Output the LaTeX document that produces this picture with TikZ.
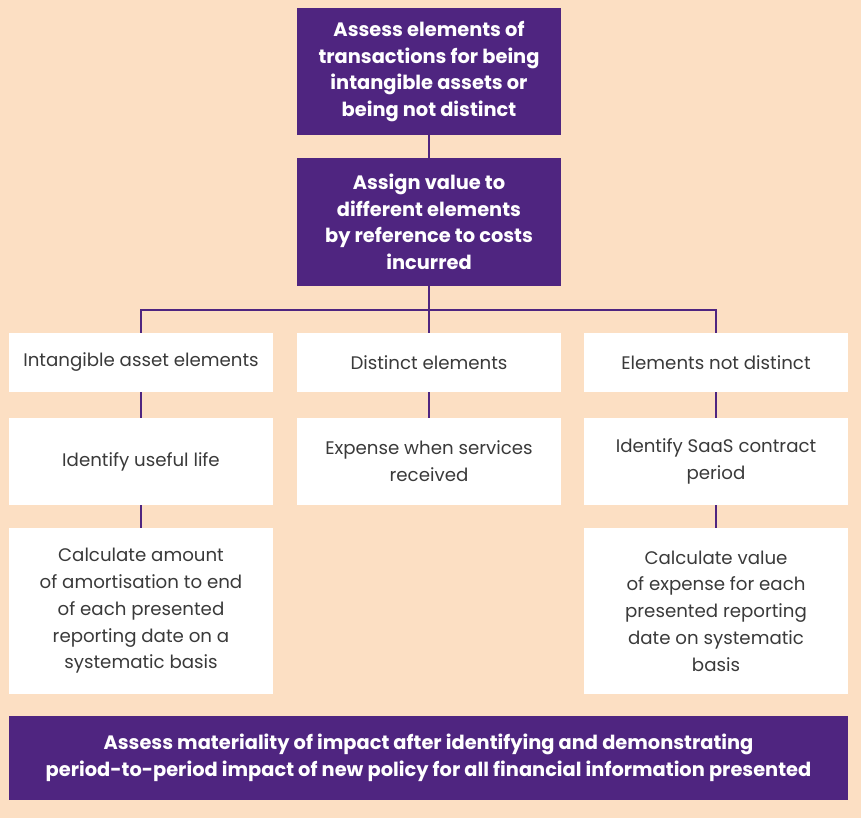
\documentclass[tikz,border=0pt]{standalone}
\usepackage{fontspec}
\setmainfont{Poppins}
\usetikzlibrary{positioning}

\definecolor{brandpurple}{HTML}{4F2580}
\definecolor{peach}{HTML}{FCDFC3}
\definecolor{textgray}{HTML}{3A3A3A}

\tikzset{
	purplebox/.style={fill=brandpurple, text=white, align=center, inner sep=0pt,
		font=\bfseries\fontsize{19.4}{26.5}\selectfont, minimum width=264},
	whitebox/.style={fill=white, text=textgray, align=center, inner sep=0pt,
		font=\fontsize{18.2}{26.8}\selectfont, minimum width=264},
	link/.style={draw=brandpurple, line width=2pt}
}

\begin{document}
\begin{tikzpicture}[x=1pt, y=-1pt]
		\fill[peach] (0,0) rectangle (861,818);
		\useasboundingbox (0,0) rectangle (861,818);
		% top of the flow
		\node[purplebox, minimum height=127] (assess) at (429,71.5) {Assess elements of\\transactions for being\\intangible assets or\\being not distinct};
		\node[purplebox, minimum height=128] (assign) at (429,222) {Assign value to\\different elements\\by reference to costs\\incurred};
		% three branches
		\node[whitebox, minimum height=59] (intangible) at (141,362.5) {Intangible asset elements};
		\node[whitebox, minimum height=59] (distinct) at (429,362.5) {Distinct elements};
		\node[whitebox, minimum height=59] (notdistinct) at (716,362.5) {Elements not distinct};
		\node[whitebox, minimum height=87] (useful) at (141,461.5) {Identify useful life};
		\node[whitebox, minimum height=87] (expense) at (429,461.5) {Expense when services\\received};
		\node[whitebox, minimum height=87] (saas) at (716,461.5) {Identify SaaS contract\\period};
		\node[whitebox, minimum height=166] (amort) at (141,611) {Calculate amount\\of amortisation to end\\of each presented\\reporting date on a\\systematic basis};
		\node[whitebox, minimum height=166] (expvalue) at (716,611) {Calculate value\\of expense for each\\presented reporting\\date on systematic\\basis};
		% closing step
		\node[purplebox, minimum width=839, minimum height=84] (materiality) at (428.5,758) {Assess materiality of impact after identifying and demonstrating\\period-to-period impact of new policy for all financial information presented};
		% connectors
		\draw[link] (assess) -- (assign);
		\draw[link] (assign.south) -- (distinct.north);
		\draw[link] (assign.south) -- ++(0,24) -| (intangible.north);
		\draw[link] (assign.south) -- ++(0,24) -| (notdistinct.north);
		\draw[link] (intangible) -- (useful);
		\draw[link] (distinct) -- (expense);
		\draw[link] (notdistinct) -- (saas);
		\draw[link] (useful) -- (amort);
		\draw[link] (saas) -- (expvalue);
	\end{tikzpicture}
\end{document}
